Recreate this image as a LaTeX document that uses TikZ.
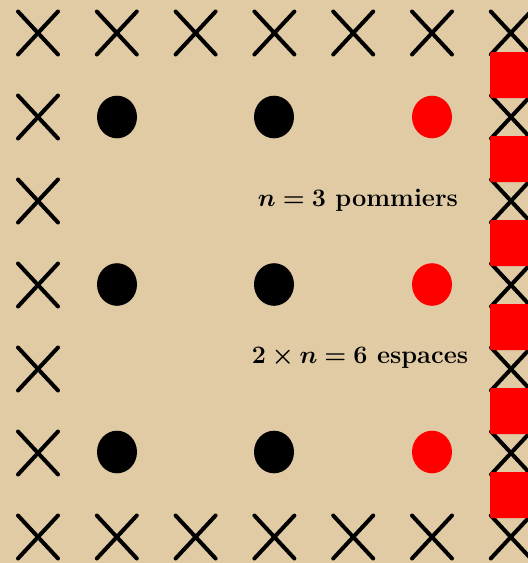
\documentclass[tikz,border=0pt]{standalone}
\usepackage{amsmath,bm}
\definecolor{bg}{RGB}{224,203,164}
\tikzset{
  cross/.style={line width=4pt,line cap=round,black},
  redbar/.style={fill=red,rounded corners=1.5pt},
  lbl/.style={font=\fontsize{21}{25}\selectfont\bfseries,inner sep=0pt,scale=1.21}
}
\newcommand{\crossat}[2]{\draw[cross] (#1-20,#2-21.5) -- (#1+20,#2+21.5) (#1-20,#2+21.5) -- (#1+20,#2-21.5);}
\begin{document}
\begin{tikzpicture}[x=1pt,y=-1pt]
\fill[bg] (0,0) rectangle (528,563);
\useasboundingbox (0,0) rectangle (528,563);
\clip (0,0) rectangle (528,563);
% top and bottom rows of crosses
\foreach \i in {0,...,6} {
  \pgfmathsetmacro{\xx}{38+78.8*\i}
  \crossat{\xx}{33}
  \crossat{\xx}{537}
}
% left and right columns
\foreach \j in {1,...,5} {
  \pgfmathsetmacro{\yy}{33+84*\j}
  \crossat{38}{\yy}
  \crossat{511}{\yy}
}
% red bars on right
\foreach \j in {0,...,5} {
  \pgfmathsetmacro{\yy}{75+84*\j}
  \fill[redbar] (490,\yy-23) rectangle (540,\yy+23);
}
% trees
\foreach \j in {0,1,2} {
  \pgfmathsetmacro{\yy}{117+167.5*\j}
  \fill[black] (117,\yy) ellipse [x radius=20,y radius=21.3];
  \fill[black] (274,\yy) ellipse [x radius=20,y radius=21.3];
  \fill[red] (432,\yy) ellipse [x radius=20,y radius=21.3];
}
\node[lbl] (t1) at (358,200) {$\boldsymbol{n=3}$ pommiers};
\node[lbl] (t2) at (360,358) {$\boldsymbol{2\times n=6}$ espaces};
\end{tikzpicture}
\end{document}
